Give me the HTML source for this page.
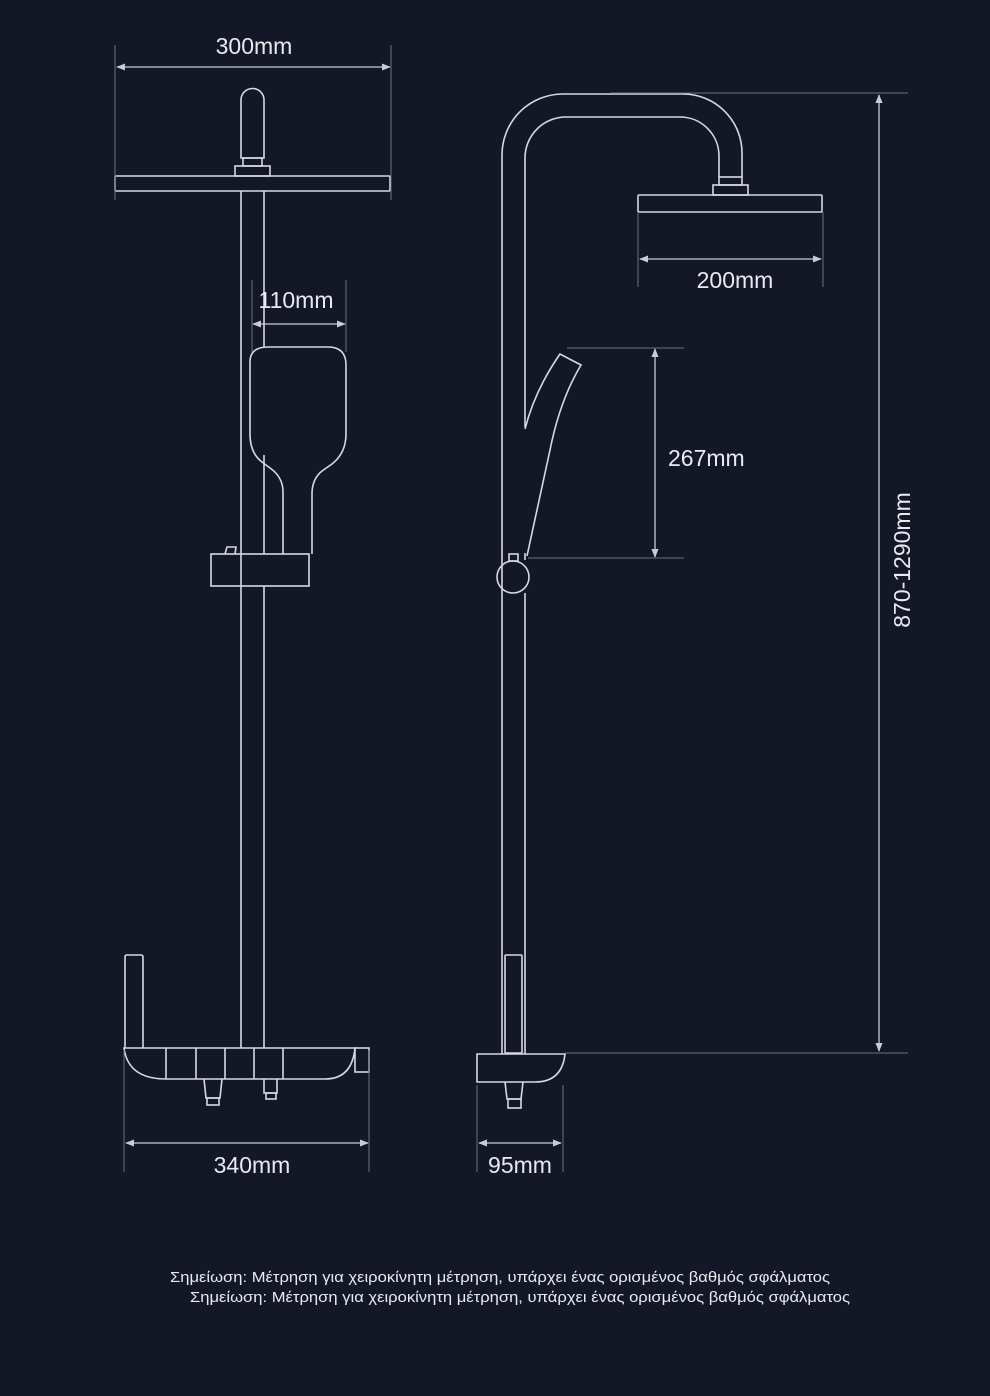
<!DOCTYPE html>
<html><head><meta charset="utf-8"><style>
html,body{margin:0;padding:0;background:#141826;}
svg{display:block;}
text{font-family:"Liberation Sans","DejaVu Sans",sans-serif;fill:#e8eaf0;}
</style></head><body>
<svg width="990" height="1396" viewBox="0 0 990 1396" xmlns="http://www.w3.org/2000/svg">
<defs>
<marker id="a" viewBox="0 0 10 10" refX="9" refY="5" markerWidth="9" markerHeight="9" orient="auto-start-reverse" markerUnits="userSpaceOnUse"><path d="M0,1 L10,5 L0,9 z" fill="#c9ccd4"/></marker>
</defs>
<rect width="990" height="1396" fill="#141826"/>
<g fill="none" stroke="#d6d9e0" stroke-width="1.6">
<!-- LEFT VIEW -->
<path d="M241,158 V100 A11.5,11.5 0 0 1 264,100 V158 Z"/>
<rect x="243" y="158" width="19" height="8"/>
<rect x="235" y="166" width="35" height="10"/>
<rect x="115" y="176" width="275" height="15" rx="1"/>
<line x1="241" y1="191" x2="241" y2="1048"/>
<line x1="264" y1="191" x2="264" y2="347"/>
<line x1="264" y1="455" x2="264" y2="554"/>
<line x1="264" y1="586" x2="264" y2="1048"/>
<path d="M283,554 V492 Q283,477 270,468 L262,462 Q250,453 250,434 V362 Q250,347 268,347 H328 Q346,347 346,365 V434 Q346,453 332,464 L322,471 Q312,479 312,494 V554"/>
<rect x="211" y="554" width="98" height="32"/>
<path d="M225,554 L227,547 H236 L235,554"/>
<!-- left bottom -->
<path d="M125,1048 V957 Q125,955 127,955 H141 Q143,955 143,957 V1048"/>
<path d="M124,1048 H355 Q352,1079 325,1079 H166 Q128,1079 124,1048 Z"/>
<line x1="166" y1="1048" x2="166" y2="1079"/>
<line x1="196" y1="1048" x2="196" y2="1079"/>
<line x1="225" y1="1048" x2="225" y2="1079"/>
<line x1="254" y1="1048" x2="254" y2="1079"/>
<line x1="283" y1="1048" x2="283" y2="1079"/>
<rect x="355" y="1048" width="14" height="24"/>
<path d="M204,1079 L206,1098 H220 L222,1079"/>
<rect x="207" y="1098" width="12" height="7"/>
<path d="M264,1079 V1093 H277 V1079"/>
<rect x="266" y="1093" width="10" height="6"/>
<!-- RIGHT VIEW -->
<path d="M502,1054 V155 A61,61 0 0 1 563,94 H683 A59,59 0 0 1 742,153 V177"/>
<path d="M525,427 V158 A41,41 0 0 1 566,117 H680 A39,39 0 0 1 719,156 V177"/>
<line x1="525" y1="553" x2="525" y2="560"/>
<line x1="525" y1="593" x2="525" y2="1054"/>
<rect x="719" y="177" width="23" height="8"/>
<rect x="713" y="185" width="35" height="10"/>
<rect x="638" y="195" width="184" height="17" rx="1"/>
<path d="M525,429 Q535,390 560,354 L581,365 Q560,400 550,450 L527,556"/>
<circle cx="513" cy="577" r="16"/>
<rect x="509" y="554" width="9" height="7"/>
<rect x="505" y="955" width="17" height="98" rx="1"/>
<path d="M477,1054 H565 Q562,1082 535,1082 H477 Z"/>
<path d="M505,1082 L507,1099 H521 L523,1082"/>
<rect x="508" y="1099" width="13" height="9"/>
</g>
<!-- dimension lines -->
<g stroke="#6a6f7c" stroke-width="1" fill="none">
<line x1="115" y1="45" x2="115" y2="200"/><line x1="391" y1="45" x2="391" y2="200"/>
<line x1="252" y1="280" x2="252" y2="352"/><line x1="346" y1="280" x2="346" y2="352"/>
<line x1="124" y1="1050" x2="124" y2="1172"/><line x1="369" y1="1050" x2="369" y2="1172"/>
<line x1="477" y1="1085" x2="477" y2="1172"/><line x1="563" y1="1085" x2="563" y2="1172"/>
<line x1="638" y1="212" x2="638" y2="287"/><line x1="823" y1="212" x2="823" y2="287"/>
<line x1="567" y1="348" x2="684" y2="348"/><line x1="528" y1="558" x2="684" y2="558"/>
<line x1="610" y1="93" x2="908" y2="93"/><line x1="565" y1="1053" x2="908" y2="1053"/>
</g>
<g stroke="#c9ccd4" stroke-width="1.3" fill="none" marker-start="url(#a)" marker-end="url(#a)">
<line x1="117" y1="67" x2="390" y2="67"/>
<line x1="253" y1="324" x2="345" y2="324"/>
<line x1="126" y1="1143" x2="368" y2="1143"/>
<line x1="479" y1="1143" x2="561" y2="1143"/>
<line x1="640" y1="259" x2="821" y2="259"/>
<line x1="655" y1="349" x2="655" y2="557"/>
<line x1="879" y1="95" x2="879" y2="1051"/>
</g>
<g font-size="23">
<text x="254" y="54" text-anchor="middle">300mm</text>
<text x="296" y="308" text-anchor="middle">110mm</text>
<text x="252" y="1173" text-anchor="middle">340mm</text>
<text x="520" y="1173" text-anchor="middle">95mm</text>
<text x="735" y="288" text-anchor="middle">200mm</text>
<text x="668" y="466">267mm</text>
<text transform="translate(910,560) rotate(-90)" text-anchor="middle">870-1290mm</text>
</g>
<g font-size="14.5" style="fill:#d8dbe2">
<text x="170" y="1282" textLength="660" lengthAdjust="spacingAndGlyphs">Σημείωση: Μέτρηση για χειροκίνητη μέτρηση, υπάρχει ένας ορισμένος βαθμός σφάλματος</text>
<text x="190" y="1302" textLength="660" lengthAdjust="spacingAndGlyphs">Σημείωση: Μέτρηση για χειροκίνητη μέτρηση, υπάρχει ένας ορισμένος βαθμός σφάλματος</text>
</g>
</svg>
</body></html>
